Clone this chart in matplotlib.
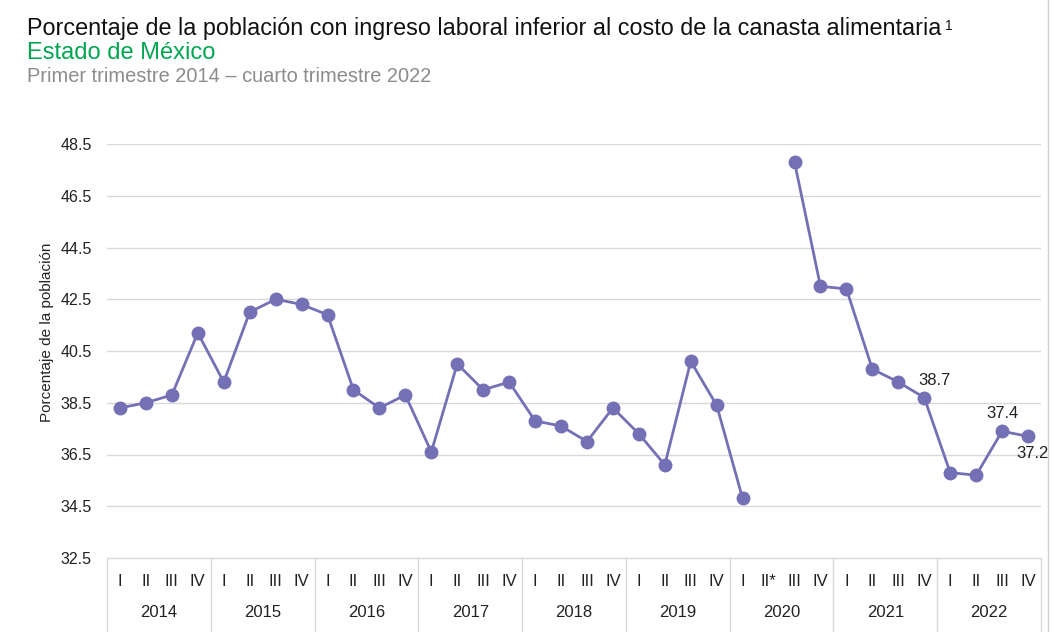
import numpy as np
import matplotlib.pyplot as plt
import matplotlib.transforms as mtransforms

plt.rcParams['font.family'] = ['Liberation Sans', 'DejaVu Sans']

# data: quarterly values 2014-I .. 2022-IV (2020-II not available)
years = ['2014', '2015', '2016', '2017', '2018', '2019', '2020', '2021', '2022']
quarters = ['I', 'II', 'III', 'IV']
quarter_labels_2020 = ['I', 'II*', 'III', 'IV']
values = [
    38.3, 38.5, 38.8, 41.2,   # 2014
    39.3, 42.0, 42.5, 42.3,   # 2015
    41.9, 39.0, 38.3, 38.8,   # 2016
    36.6, 40.0, 39.0, 39.3,   # 2017
    37.8, 37.6, 37.0, 38.3,   # 2018
    37.3, 36.1, 40.1, 38.4,   # 2019
    34.8, np.nan, 47.8, 43.0, # 2020
    42.9, 39.8, 39.3, 38.7,   # 2021
    35.8, 35.7, 37.4, 37.2,   # 2022
]
labelled = {31: '38.7', 34: '37.4', 35: '37.2'}
yticks = [32.5, 34.5, 36.5, 38.5, 40.5, 42.5, 44.5, 46.5, 48.5]

line_color = '#7470b5'
grid_color = '#d9d9d9'

fig = plt.figure(figsize=(10.54, 6.32), dpi=100)
W, H = 1054, 632
ax = fig.add_axes([107 / W, (H - 558) / H, (1041 - 107) / W, 414 / H])

x = np.arange(len(values))
ax.plot(x, values, color=line_color, lw=2, marker='o', ms=9, zorder=3)

ax.set_ylim(32.5, 48.5)
ax.set_xlim(-0.5, 35.5)
ax.set_yticks(yticks)
ax.set_yticklabels(['%.1f' % v for v in yticks], fontsize=11.5, color='#222222')
ax.tick_params(axis='y', length=0, pad=11)
ax.set_xticks([])
for v in yticks[1:]:
    ax.axhline(v, color=grid_color, lw=1, zorder=1)
for s in ax.spines.values():
    s.set_visible(False)

# category table under the plot
trans = mtransforms.blended_transform_factory(ax.transData, ax.transAxes)
ax.plot([-0.5, 35.5], [0, 0], color=grid_color, lw=1, transform=trans, clip_on=False)
for k in range(len(years) + 1):
    xb = -0.5 + 4 * k
    ax.plot([xb, xb], [0, -0.18], color=grid_color, lw=1, transform=trans, clip_on=False)
for k, yr in enumerate(years):
    qs = quarter_labels_2020 if yr == '2020' else quarters
    for q, ql in enumerate(qs):
        ax.text(4 * k + q, -0.057, ql, transform=trans, ha='center', va='center',
                fontsize=12, color='#222222')
    ax.text(4 * k + 1.5, -0.132, yr, transform=trans, ha='center', va='center',
            fontsize=12, color='#222222')

# value labels (offsets in points)
offsets = {31: (7, 12.5), 34: (0, 13), 35: (3, -12.5)}
for i, txt in labelled.items():
    dx, dy = offsets[i]
    ax.annotate(txt, (x[i], values[i]), xytext=(dx, dy), textcoords='offset points',
                ha='center', va='center', fontsize=12, color='#222222')

fig.text(47 / W, 1 - 332 / H, 'Porcentaje de la población', rotation=90,
         ha='center', va='center', fontsize=11, color='#222222')

# titles
title = fig.text(27 / W, 1 - 35 / H,
                 'Porcentaje de la población con ingreso laboral inferior al costo de la canasta alimentaria',
                 fontsize=16.8, color='#111111', va='baseline')
ax.annotate('1', xy=(1, 0), xycoords=title, xytext=(2.5, 7), textcoords='offset points',
            fontsize=10, color='#111111', va='baseline', ha='left', annotation_clip=False)
fig.text(27 / W, 1 - 59 / H, 'Estado de México', fontsize=17, color='#00a651', va='baseline')
fig.text(27 / W, 1 - 82 / H, 'Primer trimestre 2014 \u2013 cuarto trimestre 2022',
         fontsize=14.4, color='#8c8c8c', va='baseline')

fig.add_artist(plt.Line2D([1048 / W, 1048 / W], [0, 1], color='#d0d0d0', lw=1))

fig.savefig('out.png', dpi=100)
